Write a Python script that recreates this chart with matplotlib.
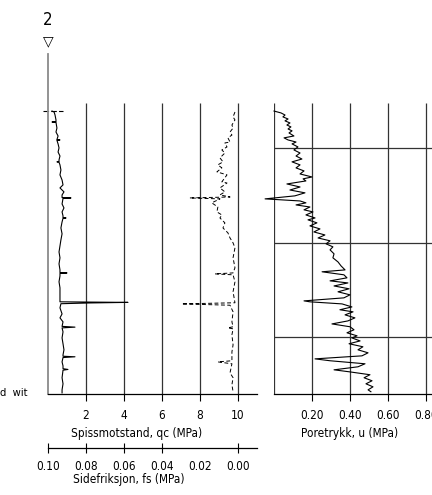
import matplotlib.pyplot as plt

plt.rcParams['font.family'] = ['DejaVu Sans']
plt.rcParams['font.stretch'] = 'condensed'

# depth in m, values
qc_depth = [3.02, 3.07, 3.23, 3.49, 3.58, 3.60, 3.62, 3.92, 4.13, 4.34, 4.53, 4.55, 4.57,
            4.76, 4.97, 5.19, 5.40, 5.61, 5.69, 5.71, 5.73, 5.87, 6.14, 6.40, 6.67, 6.93,
            7.09, 7.30, 7.46, 7.60, 7.62, 7.65, 7.94, 8.15, 8.36, 8.57, 8.66, 8.68, 8.70,
            8.89, 9.21, 9.52, 9.84, 10.16, 10.48, 10.79, 11.11, 11.43, 11.57, 11.59, 11.62,
            11.75, 12.06, 12.38, 12.70, 13.02, 13.12, 13.15, 13.18, 13.22, 13.44, 13.76,
            13.97, 14.18, 14.42, 14.46, 14.50, 14.71, 15.03, 15.34, 15.66, 15.93, 16.00,
            16.03, 16.07, 16.30, 16.51, 16.66, 16.70, 16.74, 17.14, 17.46, 17.78, 17.94]
qc = [0.21, 0.32, 0.37, 0.42, 0.42, 0.21, 0.42, 0.47, 0.42, 0.53, 0.47, 0.63, 0.47,
      0.53, 0.58, 0.53, 0.63, 0.58, 0.58, 0.47, 0.58, 0.63, 0.68, 0.63, 0.74, 0.79,
      0.63, 0.84, 0.74, 0.74, 1.21, 0.79, 0.74, 0.84, 0.74, 0.79, 0.79, 0.95, 0.79,
      0.74, 0.68, 0.74, 0.68, 0.63, 0.58, 0.63, 0.58, 0.63, 0.63, 1.00, 0.63,
      0.63, 0.58, 0.63, 0.63, 0.63, 0.63, 4.21, 2.21, 0.68, 0.63, 0.74,
      0.63, 0.79, 0.74, 1.42, 0.74, 0.79, 0.74, 0.79, 0.84, 0.79, 0.79,
      1.42, 0.79, 0.74, 0.79, 0.79, 1.05, 0.79, 0.74, 0.79, 0.74, 0.74]

fs_depth = [3.07, 3.33, 3.49, 3.76, 3.92, 4.13, 4.29, 4.44, 4.66, 4.71, 4.92, 5.08, 5.24,
            5.50, 5.71, 5.87, 6.03, 6.24, 6.40, 6.77, 6.83, 7.09, 7.30, 7.46, 7.57, 7.62,
            7.67, 7.88, 8.10, 8.36, 8.52, 8.68, 8.94, 9.21, 9.47, 9.74, 10.00, 10.26,
            10.79, 11.32, 11.59, 11.64, 11.69, 12.06, 12.59, 13.17, 13.23, 13.30, 13.65,
            14.18, 14.44, 14.50, 14.55, 14.87, 15.40, 15.77, 16.24, 16.30, 16.40, 16.88,
            17.14, 17.51, 17.88]
fs = [0.0016, 0.0026, 0.0016, 0.0032, 0.0026, 0.0042, 0.0032, 0.0053, 0.0042, 0.0069,
      0.0058, 0.0085, 0.0069, 0.0095, 0.0079, 0.0106, 0.0085, 0.0111, 0.0058, 0.0085,
      0.0058, 0.0095, 0.0069, 0.0095, 0.0042, 0.0254, 0.0095, 0.0138, 0.0106, 0.0111,
      0.0085, 0.0095, 0.0069, 0.0079, 0.0053, 0.0042, 0.0026, 0.0016, 0.0026, 0.0016,
      0.0026, 0.0122, 0.0026, 0.0016, 0.0026, 0.0016, 0.0296, 0.0042, 0.0026,
      0.0032, 0.0026, 0.0053, 0.0026, 0.0032, 0.0026, 0.0032, 0.0032, 0.0106, 0.0032,
      0.0042, 0.0026, 0.0032, 0.0026]

u_depth = [3.02, 3.12, 3.23, 3.33, 3.44, 3.54, 3.65, 3.76, 3.86, 3.97, 4.07, 4.18, 4.34,
           4.44, 4.55, 4.66, 4.76, 4.92, 5.08, 5.24, 5.40, 5.56, 5.71, 5.87, 6.03, 6.19,
           6.35, 6.51, 6.61, 6.72, 6.88, 7.04, 7.20, 7.35, 7.51, 7.67, 7.78, 7.88, 7.99,
           8.10, 8.25, 8.36, 8.52, 8.68, 8.78, 8.94, 9.10, 9.26, 9.42, 9.58, 9.74, 9.89,
           10.05, 10.21, 10.37, 10.58, 10.79, 11.01, 11.22, 11.43, 11.53, 11.69, 11.85,
           12.01, 12.12, 12.28, 12.43, 12.59, 12.75, 12.91, 13.07, 13.12, 13.23, 13.39,
           13.54, 13.65, 13.81, 13.97, 14.13, 14.29, 14.44, 14.60, 14.76, 14.92, 15.03,
           15.19, 15.34, 15.50, 15.66, 15.82, 15.98, 16.14, 16.24, 16.40, 16.56, 16.72,
           16.83, 16.98, 17.14, 17.30, 17.46, 17.62, 17.78, 17.88]
u = [0.000, 0.037, 0.058, 0.047, 0.074, 0.058, 0.084, 0.068, 0.089, 0.074, 0.095, 0.079, 0.105,
     0.053, 0.074, 0.116, 0.095, 0.126, 0.105, 0.137, 0.116, 0.147, 0.095, 0.137, 0.116, 0.158,
     0.137, 0.200, 0.153, 0.168, 0.068, 0.137, 0.084, 0.163, 0.110, -0.047, 0.137, 0.168, 0.116,
     0.189, 0.158, 0.205, 0.168, 0.216, 0.179, 0.226, 0.189, 0.242, 0.210, 0.268, 0.232, 0.295,
     0.274, 0.310, 0.295, 0.316, 0.310, 0.337, 0.353, 0.374, 0.253, 0.368, 0.384,
     0.295, 0.389, 0.316, 0.395, 0.337, 0.400, 0.368, 0.158, 0.189, 0.358, 0.410,
     0.347, 0.416, 0.374, 0.426, 0.389, 0.305, 0.400, 0.421, 0.384, 0.437, 0.410,
     0.453, 0.395, 0.468, 0.442, 0.495, 0.463, 0.216, 0.295, 0.479, 0.442, 0.316,
     0.400, 0.505, 0.474, 0.516, 0.484, 0.521, 0.495, 0.510]

qc_ticks = [2, 4, 6, 8, 10]
fs_ticks = [0.10, 0.08, 0.06, 0.04, 0.02, 0.00]
u_ticks = [0.2, 0.4, 0.6, 0.8]
u_grid_x = [0.0, 0.2, 0.4, 0.6, 0.8]
u_grid_depth = [5, 10, 15]
predrill = 3.02
grid_top = 2.6
max_depth = 18
fsz = 8.5

W, H = 432, 495
fig = plt.figure(figsize=(W / 100, H / 100), dpi=100)

# --- left panel: qc and fs
ax = fig.add_axes([48 / W, 101 / H, 209 / W, 340 / H])
ax.set_xlim(0, 11)
ax.set_ylim(max_depth, 0)
for s in ['top', 'right']:
    ax.spines[s].set_visible(False)
ax.spines['left'].set_color('#8a8a8a')
ax.spines['left'].set_linewidth(1.3)
ax.spines['bottom'].set_linewidth(0.9)
ax.set_yticks([])
ax.set_xticks(qc_ticks)
ax.set_xticklabels([str(t) for t in qc_ticks])
ax.tick_params(axis='x', direction='out', length=5, width=0.8, pad=6, labelsize=fsz)
ax.vlines(qc_ticks, grid_top, max_depth, color='#333333', lw=0.9)
ax.hlines(predrill, -0.26, 0.79, color='k', lw=0.8, linestyles=(0, (5, 2)), clip_on=False)
ax.plot(qc, qc_depth, color='k', lw=0.8)

axf = ax.twiny()
axf.set_xlim(0.10, -0.01)
axf.axis('off')
axf.plot(fs, fs_depth, color='k', lw=0.7, ls=(0, (4, 2.5)))

sec = ax.secondary_xaxis(-54 / 340, functions=(lambda q: (10 - q) / 100, lambda f: 10 - 100 * f))
sec.set_xticks(fs_ticks)
sec.set_xticklabels(['%.2f' % t for t in fs_ticks])
sec.tick_params(direction='inout', length=7, width=0.8, pad=5, labelsize=fsz)
sec.spines['bottom'].set_linewidth(0.9)
for t in sec.xaxis.get_major_ticks():
    if abs(t.get_loc() - 0.02) < 1e-6:
        t.tick1line.set_visible(False)

fig.text(137 / W, 1 - 433 / H, 'Spissmotstand, qc (MPa)', ha='center', va='center', fontsize=fsz)
fig.text(129 / W, 1 - 480 / H, 'Sidefriksjon, fs (MPa)', ha='center', va='center', fontsize=fsz)

# --- right panel: u
ax2 = fig.add_axes([274 / W, 101 / H, 171 / W, 340 / H])
ax2.set_xlim(0, 0.9)
ax2.set_ylim(max_depth, 0)
for s in ['top', 'right', 'left']:
    ax2.spines[s].set_visible(False)
ax2.spines['bottom'].set_linewidth(0.9)
ax2.set_yticks([])
ax2.set_xticks(u_ticks)
ax2.set_xticklabels(['%.2f' % t for t in u_ticks])
ax2.tick_params(axis='x', direction='out', length=5, width=0.8, pad=6, labelsize=fsz)
ax2.vlines(u_grid_x, grid_top, max_depth, color='#333333', lw=0.9)
ax2.hlines(u_grid_depth, 0, 0.9, color='#333333', lw=0.9)
ax2.plot(u, u_depth, color='k', lw=0.8, clip_on=False)
fig.text(350 / W, 1 - 433 / H, 'Poretrykk, u (MPa)', ha='center', va='center', fontsize=fsz)

# borehole marker
fig.text(48 / W, 1 - 20 / H, '2', ha='center', va='center', fontsize=12)
fig.text(48 / W, 1 - 41 / H, '▽', ha='center', va='center', fontsize=10, fontstretch='normal')
fig.text(0, 1 - 393 / H, 'd  wit', ha='left', va='center', fontsize=8)

fig.savefig('out.png', dpi=100)
